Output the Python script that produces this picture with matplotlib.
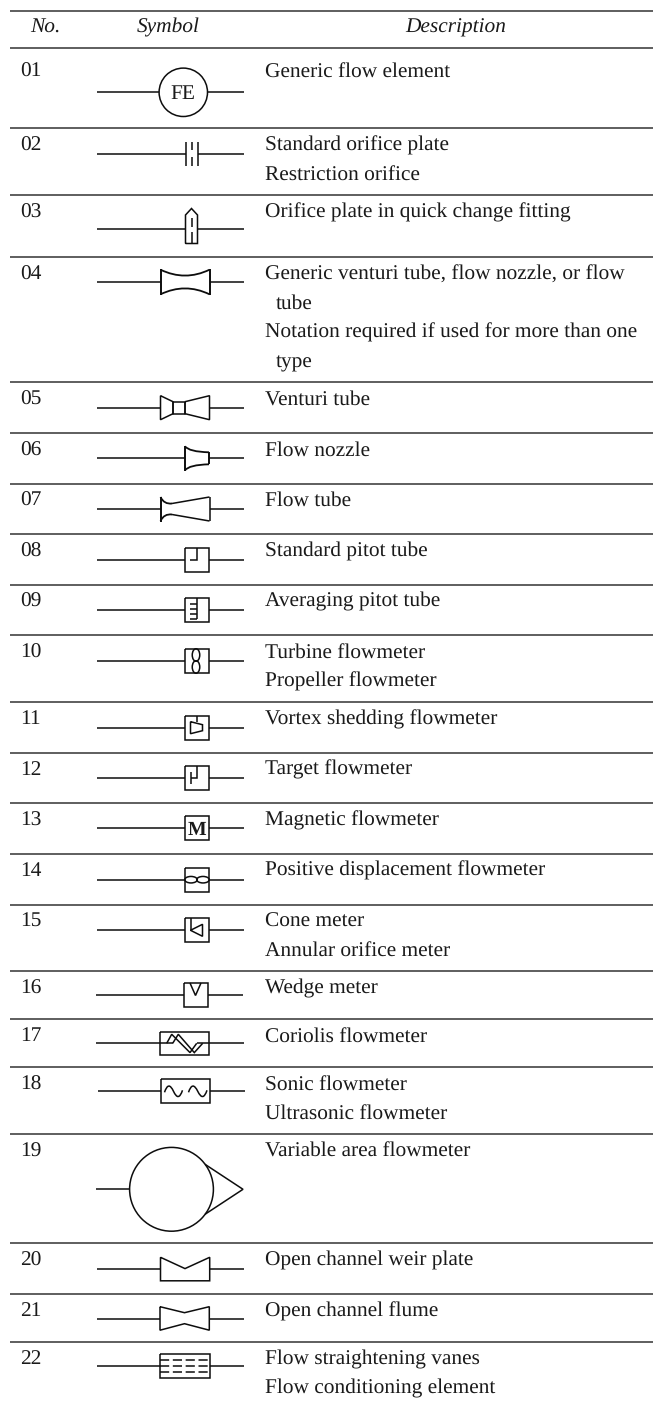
import matplotlib
matplotlib.use("Agg")
import matplotlib.pyplot as plt
from matplotlib.patches import Circle, Ellipse, PathPatch
from matplotlib.path import Path

plt.rcParams['font.family'] = ['Liberation Serif', 'DejaVu Serif']
plt.rcParams['text.hinting'] = 'no_hinting'
plt.rcParams['text.hinting_factor'] = 8

# ---- table content ----
headers = ["No.", "Symbol", "Description"]
row_numbers = ["01", "02", "03", "04", "05", "06", "07", "08", "09", "10", "11",
               "12", "13", "14", "15", "16", "17", "18", "19", "20", "21", "22"]
descriptions = [
    ["Generic flow element"],
    ["Standard orifice plate", "Restriction orifice"],
    ["Orifice plate in quick change fitting"],
    ["Generic venturi tube, flow nozzle, or flow", " tube",
     "Notation required if used for more than one", " type"],
    ["Venturi tube"],
    ["Flow nozzle"],
    ["Flow tube"],
    ["Standard pitot tube"],
    ["Averaging pitot tube"],
    ["Turbine flowmeter", "Propeller flowmeter"],
    ["Vortex shedding flowmeter"],
    ["Target flowmeter"],
    ["Magnetic flowmeter"],
    ["Positive displacement flowmeter"],
    ["Cone meter", "Annular orifice meter"],
    ["Wedge meter"],
    ["Coriolis flowmeter"],
    ["Sonic flowmeter", "Ultrasonic flowmeter"],
    ["Variable area flowmeter"],
    ["Open channel weir plate"],
    ["Open channel flume"],
    ["Flow straightening vanes", "Flow conditioning element"],
]
symbol_kinds = ["circle_fe", "orifice", "quick", "venturi_generic", "venturi", "nozzle",
                "flowtube", "pitot", "avg_pitot", "turbine", "vortex", "target", "magnetic",
                "pd", "cone", "wedge", "coriolis", "sonic", "varea", "weir", "flume", "vanes"]

# ---- layout (pixels) ----
W, H = 653, 1405
top_rule = 11
header_rule = 48
row_rules = [128, 195, 257, 382, 433, 483.5, 534, 584.5, 635, 702, 752.5, 803, 853.5,
             904.5, 971, 1019, 1067, 1134, 1243, 1294, 1341.7]
row_tops = [54] + row_rules
symbol_y = [92.3, 153.5, 228.5, 282, 407.7, 458.3, 509, 559.7, 610, 661, 727.7, 778.3,
            828, 879.7, 930.3, 995, 1043.3, 1091.3, 1189.3, 1269.3, 1318.7, 1366]
text_size = 15.4
line_gap = 29.3
INK = '#1a1a1a'
LINE = '#0d0d0d'
LW = 1.1

fig = plt.figure(figsize=(W / 100, H / 100), dpi=100)
ax = fig.add_axes([0, 0, 1, 1])
ax.set_xlim(0, W)
ax.set_ylim(H, 0)
ax.axis('off')


def poly(pts, closed=False, lw=LW):
    pts = list(pts)
    if closed:
        pts = pts + [pts[0]]
    xs, ys = zip(*pts)
    ax.plot(xs, ys, color=LINE, lw=lw, solid_joinstyle='miter', solid_capstyle='butt')


def curve(pts, lw=LW):
    """pts: start point, then control / end points of quadratic curves."""
    codes = [Path.MOVETO] + [Path.CURVE3] * (len(pts) - 1)
    ax.add_patch(PathPatch(Path(pts, codes), fc='none', ec=LINE, lw=lw))


def leads(cy, x0, x1, xl=97, xr=244):
    poly([(xl, cy), (x0, cy)])
    poly([(x1, cy), (xr, cy)])


def box(x0, x1, cy, h=12):
    poly([(x0, cy - h), (x1, cy - h), (x1, cy + h), (x0, cy + h)], closed=True)


def draw_symbol(kind, cy):
    a, b = 185, 209      # small-box column
    c, d = 160.5, 209.5  # wide-box column
    m = 197
    if kind == "circle_fe":
        leads(cy, 159, 207.5)
        ax.add_patch(Circle((183.3, cy), 24.2, fc='none', ec=LINE, lw=LW))
        ax.text(182.5, cy + 7, "FE", ha='center', va='baseline', fontsize=text_size, color=INK)
    elif kind == "orifice":
        leads(cy, 185.5, 197.5)
        poly([(185.5, cy - 12), (185.5, cy + 12)])
        poly([(197.5, cy - 12), (197.5, cy + 12)])
        poly([(191.5, cy - 12), (191.5, cy - 3.5)])
        poly([(191.5, cy + 3), (191.5, cy + 12)])
    elif kind == "quick":
        leads(cy, 185.5, 197.5)
        poly([(185.5, cy + 15), (185.5, cy - 13.5), (191.5, cy - 20), (197.5, cy - 13.5),
              (197.5, cy + 15)], closed=True)
        poly([(191.5, cy - 11), (191.5, cy - 1.5)])
        poly([(191.5, cy + 3.5), (191.5, cy + 15)])
    elif kind == "venturi_generic":
        leads(cy, c, d)
        poly([(c, cy - 12.7), (c, cy + 12.7)], lw=1.4)
        poly([(d, cy - 12.7), (d, cy + 12.7)], lw=1.4)
        curve([(c, cy - 12.3), ((c + d) / 2, cy - 0.5), (d, cy - 12.3)], lw=1.3)
        curve([(c, cy + 12.3), ((c + d) / 2, cy + 0.5), (d, cy + 12.3)], lw=1.3)
    elif kind == "venturi":
        leads(cy, c, d)
        poly([(c, cy - 12), (173, cy - 6), (173, cy + 6), (c, cy + 12)], closed=True)
        poly([(173, cy - 6), (185, cy - 6), (185, cy + 6), (173, cy + 6)], closed=True)
        poly([(185, cy - 6), (d, cy - 12), (d, cy + 12), (185, cy + 6)], closed=True)
    elif kind == "nozzle":
        leads(cy, 185, 209)
        poly([(185, cy - 12.5), (185, cy + 12.5)], lw=1.4)
        poly([(209, cy - 6), (209, cy + 6)], lw=1.4)
        curve([(185, cy - 12), (189, cy - 6.5), (209, cy - 6)], lw=1.3)
        curve([(185, cy + 12), (189, cy + 6.5), (209, cy + 6)], lw=1.3)
    elif kind == "flowtube":
        leads(cy, c, d)
        poly([(c, cy - 12.5), (c, cy + 12.5)], lw=1.4)
        poly([(d, cy - 12), (d, cy + 12)])
        curve([(c, cy - 12), (164, cy - 4.5), (172, cy - 5.5)], lw=1.3)
        curve([(c, cy + 12), (164, cy + 4.5), (172, cy + 5.5)], lw=1.3)
        poly([(172, cy - 5.5), (d, cy - 12)])
        poly([(172, cy + 5.5), (d, cy + 12)])
    elif kind == "pitot":
        leads(cy, a, b)
        box(a, b, cy)
        poly([(m, cy - 12), (m, cy), (190, cy)])
    elif kind == "avg_pitot":
        leads(cy, a, b)
        box(a, b, cy)
        poly([(m, cy - 12), (m, cy + 9)])
        for dy in (-6.5, -1.5, 3.5, 8.5):
            poly([(190, cy + dy), (m, cy + dy)])
    elif kind == "turbine":
        leads(cy, 184.5, 208.5)
        box(184.5, 208.5, cy)
        ax.add_patch(Ellipse((196, cy - 6), 7.5, 12.5, fc='none', ec=LINE, lw=LW))
        ax.add_patch(Ellipse((196, cy + 6), 7.5, 12.5, fc='none', ec=LINE, lw=LW))
    elif kind == "vortex":
        leads(cy, a, b)
        box(a, b, cy)
        poly([(m, cy - 12), (m, cy - 6)])
        poly([(190.5, cy - 6), (202.5, cy - 3), (202.5, cy + 3), (190.5, cy + 6)], closed=True)
    elif kind == "target":
        leads(cy, a, b)
        box(a, b, cy)
        poly([(m, cy - 12), (m, cy), (190.5, cy)])
        poly([(190.5, cy - 6.5), (190.5, cy + 6)])
    elif kind == "magnetic":
        leads(cy, a, b)
        box(a, b, cy)
        ax.text(197, cy + 7, "M", ha='center', va='baseline', fontsize=14.2,
                weight='bold', color=INK)
    elif kind == "pd":
        leads(cy, a, b)
        box(a, b, cy)
        ax.add_patch(Ellipse((191, cy), 12.5, 6.5, fc='none', ec=LINE, lw=LW))
        ax.add_patch(Ellipse((203, cy), 12.5, 6.5, fc='none', ec=LINE, lw=LW))
    elif kind == "cone":
        leads(cy, a, b)
        box(a, b, cy)
        poly([(190.5, cy - 12), (190.5, cy)])
        poly([(190.5, cy), (202.5, cy - 6), (202.5, cy + 6)], closed=True)
    elif kind == "wedge":
        leads(cy, 183.5, 207.5, xl=96, xr=243)
        box(183.5, 207.5, cy)
        poly([(190, cy - 12), (195.5, cy + 0.5), (201, cy - 12)])
    elif kind == "coriolis":
        box(160, 209, cy, h=11.8)
        poly([(96, cy), (172.7, cy)])
        poly([(196.7, cy), (243.5, cy)])
        poly([(166.7, cy), (171.7, cy - 9), (190, cy + 9.3), (196.7, cy)])
        poly([(172.7, cy), (178.3, cy - 9), (194.3, cy + 9.3), (202.7, cy)])
    elif kind == "sonic":
        leads(cy, 161, 210.3, xl=97.5, xr=244.5)
        box(161, 210.3, cy)
        for x0, x1 in ((164.5, 182.5), (188.5, 207)):
            xm = (x0 + x1) / 2
            curve([(x0, cy + 1), (x0 + 4, cy - 11), (xm, cy), (x1 - 4, cy + 11), (x1, cy - 1)])
    elif kind == "varea":
        poly([(96, cy), (129.5, cy)])
        ax.add_patch(Circle((171.5, cy), 41.9, fc='none', ec=LINE, lw=LW))
        poly([(205, cy - 25), (243, cy), (205, cy + 25)])
    elif kind == "weir":
        leads(cy, 160.5, 209.7)
        poly([(160.5, cy - 12), (185, cy - 0.7), (209.7, cy - 12), (209.7, cy + 11.5),
              (160.5, cy + 11.5)], closed=True)
    elif kind == "flume":
        leads(cy, 160, 209.3)
        poly([(160, cy - 12), (184.5, cy - 6), (209.3, cy - 12), (209.3, cy + 11.5),
              (184.5, cy + 5), (160, cy + 11.5)], closed=True)
    elif kind == "vanes":
        leads(cy, 160, 209.7)
        box(160, 209.7, cy)
        for dy in (-6, 0, 6):
            ax.plot([160, 209.7], [cy + dy, cy + dy], color=LINE, lw=LW,
                    dashes=(6.0, 2.4), dash_capstyle='butt')


# rules
for y in [top_rule, header_rule] + row_rules:
    ax.plot([10, W], [y, y], color='#333333', lw=1.1, solid_capstyle='butt')

# header
for label, x in zip(headers, (45, 168, 456)):
    ax.text(x, 32.7, label, ha='center', va='baseline', style='italic',
            fontsize=text_size, color=INK)

# rows
for i, (num, desc, kind, cy) in enumerate(zip(row_numbers, descriptions, symbol_kinds, symbol_y)):
    top = row_tops[i]
    base = top + 22.3
    ax.text(20, base, num, ha='left', va='baseline', fontsize=text_size, color=INK)
    for j, line in enumerate(desc):
        indent = 11 if line.startswith(" ") else 0
        ax.text(265 + indent, base + j * line_gap, line.strip(), ha='left', va='baseline',
                fontsize=text_size, color=INK)
    draw_symbol(kind, cy)

fig.savefig("out.png", dpi=100)
